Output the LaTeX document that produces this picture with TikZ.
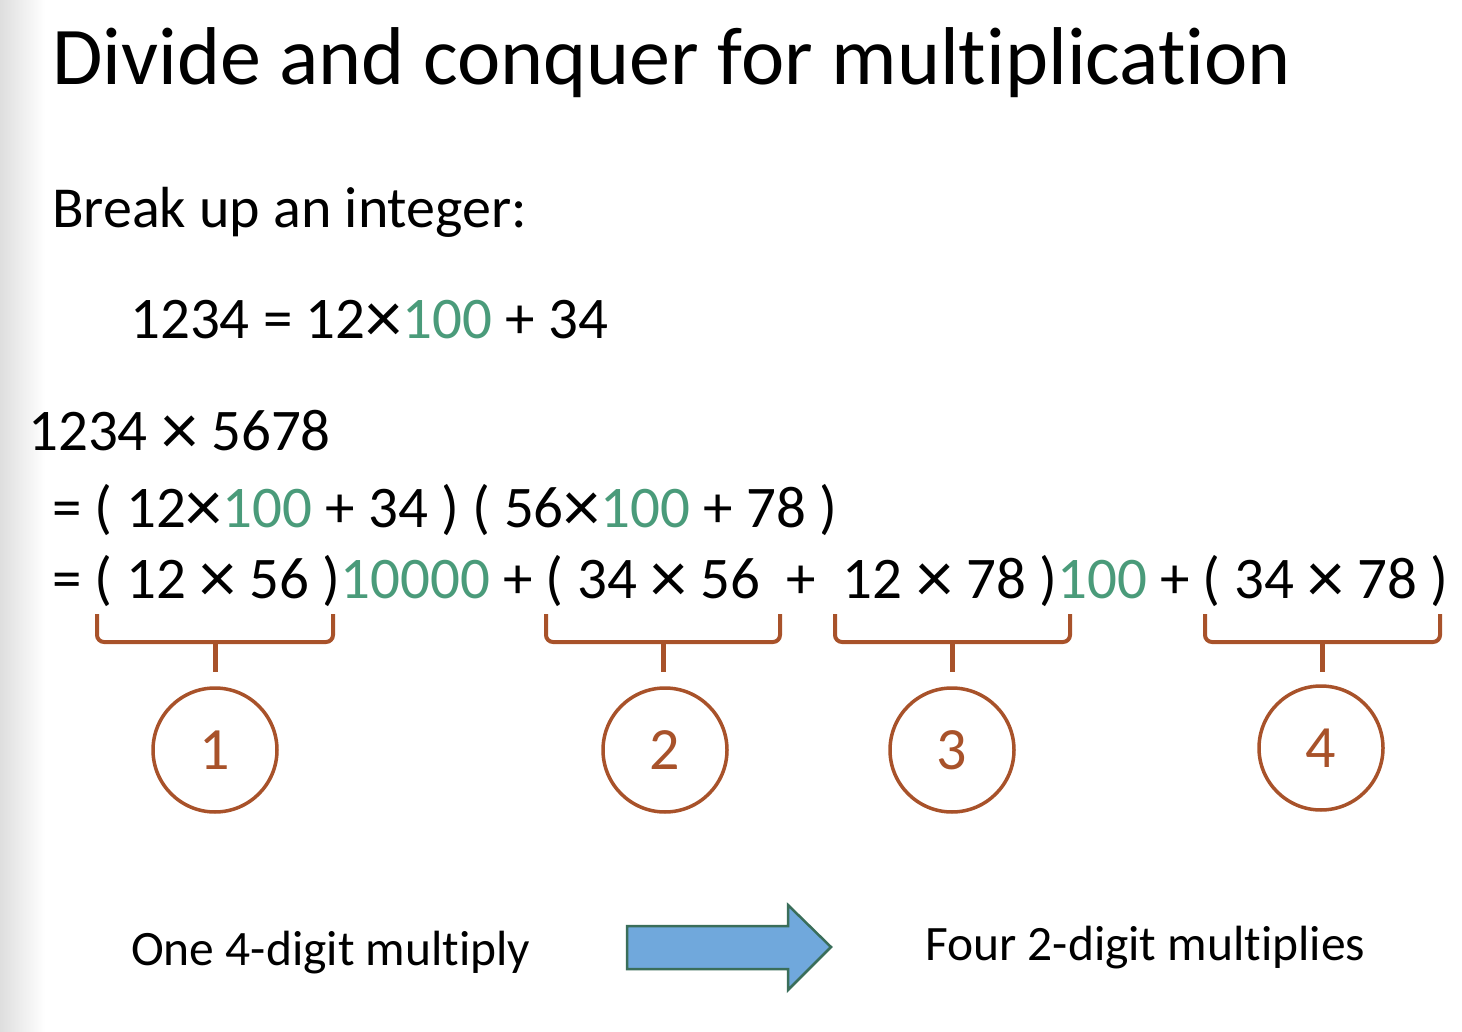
\documentclass[tikz,border=0pt]{standalone}
\usepackage{fontspec}
\setmainfont{Carlito}[Ligatures={NoCommon,NoDiscretionary,NoRare,NoContextual}]
\definecolor{tgreen}{RGB}{74,155,122}
\definecolor{tbrown}{RGB}{168,82,42}
\definecolor{afill}{RGB}{112,168,220}
\definecolor{aline}{RGB}{58,110,90}
\newcommand{\gr}[1]{\textcolor{tgreen}{#1}}
\newcommand{\X}{\raisebox{-0.08em}{\scalebox{1.25}{×}}}
\begin{document}
\begin{tikzpicture}[x=1pt,y=-1pt,
  txt/.style={anchor=base west,inner sep=0pt,font=\fontsize{59}{70}\selectfont},
  brace/.style={draw=tbrown,line width=4pt,rounded corners=7pt},
  num/.style={circle,draw=tbrown,line width=3.5pt,minimum size=124pt,inner sep=0pt,text=tbrown,font=\fontsize{60}{70}\selectfont}]
\useasboundingbox (0,0) rectangle (1462,1032);
\fill[white] (0,0) rectangle (1462,1032);
\shade[left color=black!13,right color=white] (0,0) rectangle (45,1032);
\node[txt,font=\fontsize{82}{100}\selectfont] (title) at (52,85) {Divide and conquer for multiplication};
\node[txt,font=\fontsize{58}{70}\selectfont] (break) at (52,228) {Break up an integer:};
\node[txt] (eq1) at (130,338) {1234 = 12\X\gr{100} + 34};
\node[txt] (eq2) at (28,450) {1234 \X\ 5678};
\node[txt] (eq3) at (52,527) {= ( 12\X\gr{100} + 34 ) ( 56\X\gr{100} + 78 )};
\node[txt] (eq4) at (52,598) {= ( 12 \X\ 56 )\gr{10000} + ( 34 \X\ 56 \ + \ 12 \X\ 78 )\gr{100} + ( 34 \X\ 78 )};
% braces
\draw[brace] (97,614) -- (97,642) -- (333,642) -- (333,614);
\draw[brace] (546,614) -- (546,642) -- (780,642) -- (780,614);
\draw[brace] (835,614) -- (835,642) -- (1070,642) -- (1070,614);
\draw[brace] (1205,614) -- (1205,642) -- (1440,642) -- (1440,614);
\node[num] (c1) at (215,750) {1};
\node[num] (c2) at (665,750) {2};
\node[num] (c3) at (952,750) {3};
\node[num] (c4) at (1321,748) {4};
\coordinate (b1) at (215,642);
\coordinate (b2) at (663,642);
\coordinate (b3) at (952,642);
\coordinate (b4) at (1322,642);
\foreach \i in {1,2,3,4}{\draw[draw=tbrown,line width=5pt] (b\i) ++(0,-1) -- ++(0,31);}
% bottom
\node[txt,font=\fontsize{49.5}{56}\selectfont] (one) at (131,965) {One 4-digit multiply};
\node[txt,font=\fontsize{49.5}{56}\selectfont] (four) at (925,960) {Four 2-digit multiplies};
\draw[fill=afill,draw=aline,line width=2.5pt,line join=miter]
  (627,926) -- (788,926) -- (788,905) -- (831,947) -- (788,990) -- (788,969) -- (627,969) -- cycle;
\end{tikzpicture}
\end{document}
